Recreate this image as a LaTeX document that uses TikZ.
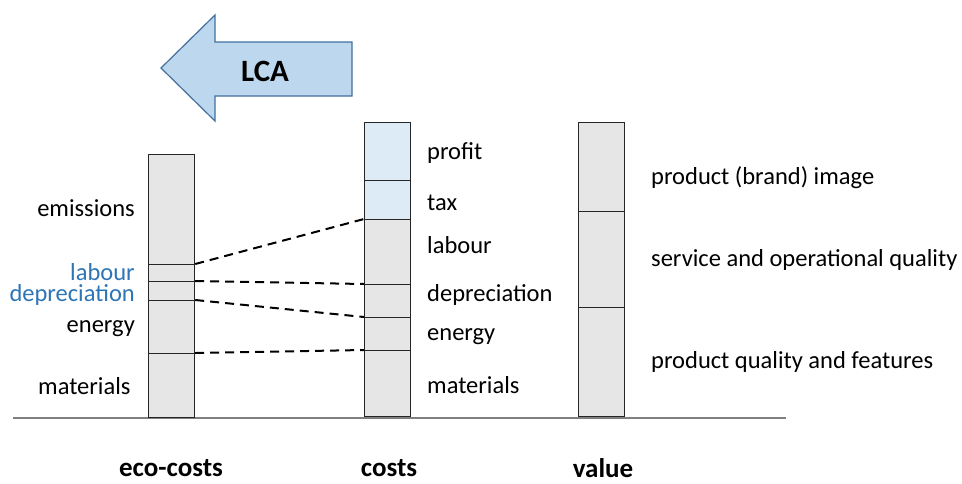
\documentclass[tikz,border=0pt]{standalone}
\usepackage{fontspec}
\setmainfont{Carlito}
\usepackage{xcolor}
\usepackage{tikz}

\definecolor{segGrey}{HTML}{E7E6E6}
\definecolor{segBlue}{HTML}{DDEBF7}
\definecolor{lcaFill}{HTML}{BDD7EE}
\definecolor{lcaLine}{HTML}{41719C}
\definecolor{lblBlue}{HTML}{2E75B6}

\tikzset{
  seg/.style={draw=black!85, line width=1.2pt, fill=segGrey, inner sep=0pt,
    minimum width=46pt, anchor=north west},
  segb/.style={seg, fill=segBlue},
  lbl/.style={font=\fontsize{24.5}{28}\selectfont, inner sep=0pt},
  axis/.style={font=\bfseries\fontsize{27}{32}\selectfont, inner sep=0pt},
  link/.style={line width=2pt, dash pattern=on 9pt off 6pt}
}

\begin{document}
\begin{tikzpicture}[x=1pt,y=-1pt]
\useasboundingbox (0,0) rectangle (962,483);

  % LCA arrow
  \draw[fill=lcaFill, draw=lcaLine, line width=1.2pt]
    (161,68) -- (215,15) -- (215,42) -- (352,42) -- (352,96) -- (215,96) -- (215,121) -- cycle;
  \node[font=\bfseries\fontsize{31}{36}\selectfont] (lca) at (265,71) {LCA};

  % ground line
  \coordinate (g1) at (13,418);
  \coordinate (g2) at (786,418);
  \draw[gray, line width=1.2pt] (g1) -- (g2);

  % eco-costs bar
  \node[seg, minimum height=110pt] (eEmi) at (148,154) {};
  \node[seg, minimum height=17pt] (eLab) at (148,264) {};
  \node[seg, minimum height=19pt] (eDep) at (148,281) {};
  \node[seg, minimum height=53pt] (eEne) at (148,300) {};
  \node[seg, minimum height=64pt] (eMat) at (148,353) {};
  \node[lbl, anchor=east] (tEmi) at (135,208) {emissions};
  \node[lbl, font=\fontsize{24.5}{21}\selectfont, align=right, anchor=east, text=lblBlue]
    (tLabDep) at (135,284) {labour\\depreciation};
  \node[lbl, anchor=east] (tEne) at (135,329) {energy};
  \node[lbl, anchor=west] (tMat) at (38,386) {materials};

  % costs bar
  \node[segb, minimum height=58pt] (cPro) at (364,122) {};
  \node[segb, minimum height=39pt] (cTax) at (364,180) {};
  \node[seg, minimum height=65pt] (cLab) at (364,219) {};
  \node[seg, minimum height=33pt] (cDep) at (364,284) {};
  \node[seg, minimum height=33pt] (cEne) at (364,317) {};
  \node[seg, minimum height=66pt] (cMat) at (364,350) {};
  \node[lbl, anchor=west] (sPro) at (427,153) {profit};
  \node[lbl, anchor=west] (sTax) at (427,203) {tax};
  \node[lbl, anchor=west] (sLab) at (427,245) {labour};
  \node[lbl, anchor=west] (sDep) at (427,295) {depreciation};
  \node[lbl, anchor=west] (sEne) at (427,337) {energy};
  \node[lbl, anchor=west] (sMat) at (427,385) {materials};

  % value bar
  \node[seg, minimum height=89pt] (vImg) at (578,122) {};
  \node[seg, minimum height=96pt] (vSer) at (578,211) {};
  \node[seg, minimum height=109pt] (vQua) at (578,307) {};
  \node[lbl, anchor=west] (uImg) at (651,178) {product (brand) image};
  \node[lbl, anchor=west] (uSer) at (651,260) {service and operational quality};
  \node[lbl, anchor=west] (uQua) at (651,362) {product quality and features};

  % links
  \draw[link] (eLab.north east) -- (cLab.north west);
  \draw[link] (eDep.north east) -- (cDep.north west);
  \draw[link] (eEne.north east) -- (cEne.north west);
  \draw[link] (eMat.north east) -- (cMat.north west);

  % axis names
  \node[axis] (nEco) at (171,468) {eco-costs};
  \node[axis] (nCost) at (389,468) {costs};
  \node[axis] (nVal) at (603,468) {value};
\end{tikzpicture}
\end{document}
